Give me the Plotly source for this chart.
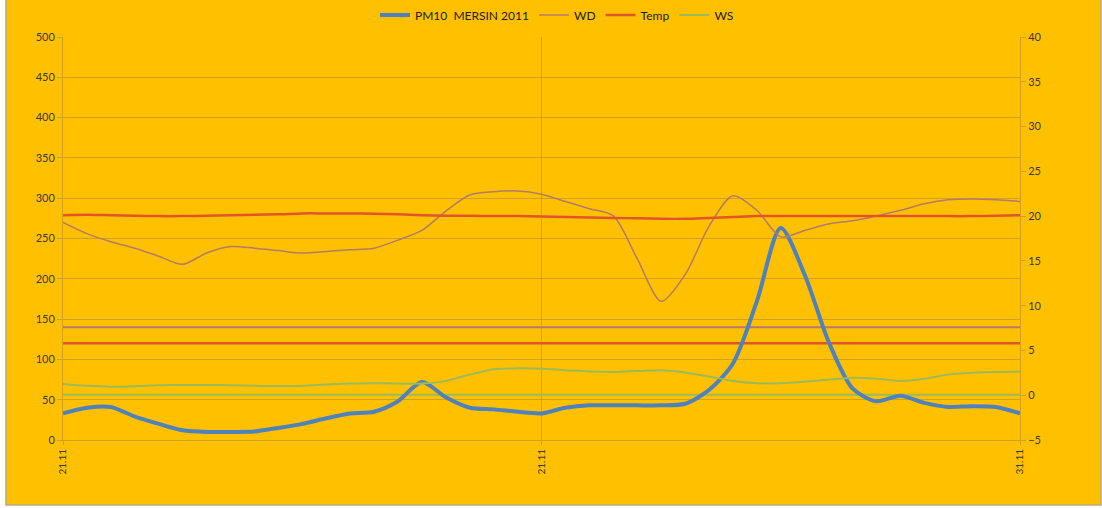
import plotly.graph_objects as go

# Observation index (41 readings) and axis labels
idx = list(range(41))
tick_pos = [0, 20, 40]
tick_text = ["21.11", "21.11", "31.11"]

pm10 = [33, 40, 41, 29, 20, 12, 10, 10, 10.5, 15, 20, 27, 33, 35, 48, 72, 53, 40, 38, 35,
        33, 40, 43, 43, 43, 43, 45, 62, 95, 172, 263, 205, 122, 64, 48, 55, 46, 41, 42, 41, 33]
wd = [270, 256, 246, 238, 228, 218, 232, 240, 238, 235, 232, 234, 236, 238, 248, 260, 284, 304, 308, 309,
      305, 296, 287, 278, 225, 172, 205, 265, 303, 285, 252, 260, 268, 272, 278, 285, 293, 298, 299, 298, 296]
temp = [20.1, 20.15, 20.1, 20.05, 20.0, 20.0, 20.05, 20.1, 20.15, 20.2, 20.3, 20.3, 20.3, 20.25, 20.2,
        20.1, 20.05, 20.05, 20.0, 20.0, 19.95, 19.9, 19.85, 19.8, 19.75, 19.7, 19.7, 19.8, 19.9, 20.0,
        20.0, 20.0, 20.0, 20.0, 20.0, 20.0, 20.0, 20.0, 20.0, 20.05, 20.1]
ws = [1.25, 1.05, 0.95, 1.0, 1.1, 1.15, 1.15, 1.1, 1.05, 1.03, 1.05, 1.2, 1.3, 1.35, 1.3, 1.3, 1.6,
      2.3, 2.9, 3.0, 2.95, 2.8, 2.65, 2.6, 2.7, 2.8, 2.55, 2.1, 1.6, 1.35, 1.33, 1.5, 1.75, 1.95,
      1.85, 1.6, 1.85, 2.3, 2.5, 2.6, 2.62]

# Flat reference levels (left axis)
level_wd = 140
level_temp = 120
level_ws = 56

BLUE = "#4F81BD"
WD_COL = "#B27C68"
RED = "#E2542A"
GREEN = "#9BBB59"
GRID = "rgba(150,125,80,0.45)"
TXT = "#3a3a3a"

fig = go.Figure()

for val, col, w in [(level_wd, WD_COL, 2), (level_temp, RED, 2.5), (level_ws, GREEN, 2)]:
    fig.add_trace(go.Scatter(x=[idx[0], idx[-1]], y=[val, val], mode="lines",
                             line=dict(color=col, width=w), showlegend=False,
                             hoverinfo="skip"))

fig.add_trace(go.Scatter(x=idx, y=pm10, name="PM10  MERSIN 2011", mode="lines",
                         line=dict(color=BLUE, width=4, shape="spline", smoothing=0.8)))
fig.add_trace(go.Scatter(x=idx, y=wd, name="WD", mode="lines",
                         line=dict(color=WD_COL, width=1.5, shape="spline", smoothing=0.8)))
fig.add_trace(go.Scatter(x=idx, y=temp, name="Temp", mode="lines", yaxis="y2",
                         line=dict(color=RED, width=2.5, shape="spline", smoothing=0.8)))
fig.add_trace(go.Scatter(x=idx, y=ws, name="WS", mode="lines", yaxis="y2",
                         line=dict(color=GREEN, width=2, shape="spline", smoothing=0.8)))

L, R, T, B = 63, 82, 37, 68
W, H = 1102, 508
pw, ph = W - L - R, H - T - B

# outer chart frame
fig.add_shape(type="rect", xref="paper", yref="paper", layer="below",
              x0=(6 - L) / pw, x1=(1101 - L) / pw,
              y0=(H - B - 505) / ph, y1=(H - B + 1) / ph,
              fillcolor="#FFC000", line=dict(color="#B8A98A", width=1.5))

fig.update_layout(
    width=W, height=H,
    margin=dict(l=L, r=R, t=T, b=B, autoexpand=False),
    paper_bgcolor="#FFFEF4",
    plot_bgcolor="rgba(0,0,0,0)",
    font=dict(family="Lato, Open Sans, sans-serif", size=11, color=TXT),
    showlegend=True,
    legend=dict(orientation="h", x=(557 - L) / pw, xanchor="center",
                y=(H - B - 15) / ph, yanchor="middle",
                bgcolor="rgba(0,0,0,0)", font=dict(size=12, color="#222"),
                traceorder="normal", itemwidth=30),
    xaxis=dict(range=[0, 40], tickvals=tick_pos, ticktext=tick_text, tickangle=-90,
               showgrid=True, gridcolor=GRID, gridwidth=1, zeroline=False,
               showline=True, linecolor=GRID, ticks="outside", ticklen=4,
               tickcolor=GRID, tickfont=dict(size=10, color=TXT)),
    yaxis=dict(range=[0, 500], dtick=50, showgrid=True, gridcolor=GRID, gridwidth=1,
               zeroline=False, showline=True, linecolor=GRID, ticks="outside",
               ticklen=5, tickcolor=GRID, tickfont=dict(size=11, color=TXT)),
    yaxis2=dict(range=[-5, 40], dtick=5, overlaying="y", side="right", showgrid=False,
                zeroline=False, showline=True, linecolor=GRID, ticks="outside",
                ticklen=5, tickcolor=GRID, tickfont=dict(size=11, color=TXT)),
)

fig.write_html("out.html")
